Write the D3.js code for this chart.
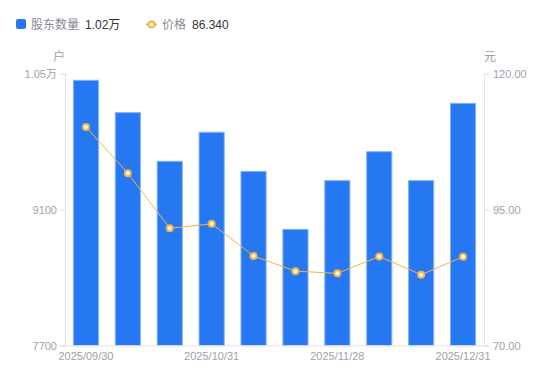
<!DOCTYPE html>
<html>
<head>
<meta charset="utf-8">
<script src="https://cdn.jsdelivr.net/npm/d3@7"></script>
<style>
body { margin: 0; background: #fff; font-family: 'Noto Sans CJK SC', 'Noto Sans', sans-serif; }
</style>
</head>
<body>
<svg id="chart" width="550" height="381"></svg>
<script>
var dates = ['2025/09/30', '2025/10/10', '2025/10/20', '2025/10/31', '2025/11/10', '2025/11/20', '2025/11/28', '2025/12/10', '2025/12/20', '2025/12/31'];
var holders = [10432, 10099, 9598, 9897, 9495, 8898, 9399, 9697, 9399, 10195];
var prices = [110.2, 101.7, 91.6, 92.4, 86.5, 83.7, 83.3, 86.4, 83.05, 86.34];
var leftTicks = [7700, 9100, 10500];
var rightTicks = [70, 95, 120];

var svg = d3.select('#chart');
var plotLeft = 65, plotRight = 484, plotTop = 73.7, plotBottom = 345.7;
var axisColor = '#e3e3e8', labelColor = '#a0a0ad';
var latin = "'Liberation Sans', 'Noto Sans CJK SC', sans-serif";

var x = d3.scaleBand().domain(dates).range([plotLeft, plotRight]).paddingInner(0.4).paddingOuter(0.2);
var yL = d3.scaleLinear().domain([7700, 10500]).range([plotBottom, plotTop]);
var yR = d3.scaleLinear().domain([70, 120]).range([plotBottom, plotTop]);

// bars
svg.append('g')
    .selectAll('rect')
    .data(holders)
    .enter().append('rect')
    .attr('x', function(d, i) { return x(dates[i]); })
    .attr('y', function(d) { return yL(d); })
    .attr('width', x.bandwidth())
    .attr('height', function(d) { return plotBottom - yL(d); })
    .attr('fill', '#2677f2')
    .attr('stroke', '#86b2f7')
    .attr('stroke-width', 1);

// axes
var gl = svg.append('g')
    .attr('transform', 'translate(' + plotLeft + ',0)')
    .call(d3.axisLeft(yL).tickValues(leftTicks).tickSize(5).tickPadding(3)
        .tickFormat(function(d) { return d >= 10000 ? (d / 10000).toFixed(2) + '万' : d; }));
var gr = svg.append('g')
    .attr('transform', 'translate(' + plotRight + ',0)')
    .call(d3.axisRight(yR).tickValues(rightTicks).tickSize(5).tickPadding(4)
        .tickFormat(d3.format('.2f')));
var gx = svg.append('g')
    .attr('transform', 'translate(0,' + plotBottom + ')')
    .call(d3.axisBottom(x).tickSize(0).tickPadding(7)
        .tickValues(dates.filter(function(d, i) { return i % 3 === 0; })));

[gl, gr, gx].forEach(function(g) {
    g.select('.domain').attr('stroke', axisColor);
    g.selectAll('.tick line').attr('stroke', axisColor);
    g.selectAll('.tick text').attr('fill', labelColor).attr('font-size', 11)
        .attr('font-family', latin);
});
gx.select('.domain').attr('d', 'M' + (plotLeft - 5) + ',0H' + (plotRight + 5));

svg.append('text').attr('x', 59).attr('y', 61).attr('text-anchor', 'middle')
    .attr('font-size', 12).attr('fill', labelColor).text('户');
svg.append('text').attr('x', 490).attr('y', 61).attr('text-anchor', 'middle')
    .attr('font-size', 12).attr('fill', labelColor).text('元');

// price line
var line = d3.line()
    .x(function(d, i) { return x(dates[i]) + x.bandwidth() / 2; })
    .y(function(d) { return yR(d); });
svg.append('path').datum(prices)
    .attr('d', line)
    .attr('fill', 'none')
    .attr('stroke', '#f6b443')
    .attr('stroke-width', 1);
svg.append('g').selectAll('circle')
    .data(prices)
    .enter().append('circle')
    .attr('cx', function(d, i) { return x(dates[i]) + x.bandwidth() / 2; })
    .attr('cy', function(d) { return yR(d); })
    .attr('r', 3)
    .attr('fill', '#fff')
    .attr('stroke', '#f6b443')
    .attr('stroke-width', 2);

// legend
var lg = svg.append('g').attr('font-size', 12);
lg.append('rect').attr('x', 16).attr('y', 19).attr('width', 10).attr('height', 10).attr('rx', 2).attr('fill', '#2677f2');
lg.append('text').attr('x', 31).attr('y', 29).attr('fill', '#8a8a96').text('股东数量');
lg.append('text').attr('x', 85).attr('y', 29).attr('fill', '#333').attr('font-family', latin)
    .text((holders[holders.length - 1] / 10000).toFixed(2) + '万');
lg.append('line').attr('x1', 146).attr('x2', 157).attr('y1', 24.5).attr('y2', 24.5).attr('stroke', '#f6b443').attr('stroke-width', 2);
lg.append('circle').attr('cx', 151.5).attr('cy', 24.5).attr('r', 3).attr('fill', '#fff').attr('stroke', '#f6b443').attr('stroke-width', 2);
lg.append('text').attr('x', 162).attr('y', 29).attr('fill', '#8a8a96').text('价格');
lg.append('text').attr('x', 192).attr('y', 29).attr('fill', '#333').attr('font-family', latin)
    .text(prices[prices.length - 1].toFixed(3));
</script>
</body>
</html>
